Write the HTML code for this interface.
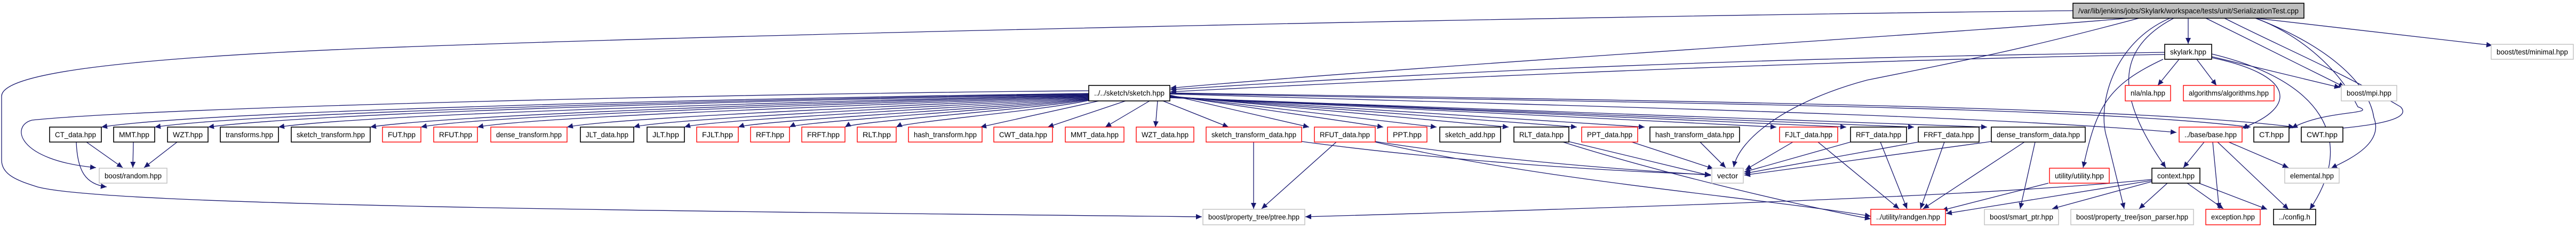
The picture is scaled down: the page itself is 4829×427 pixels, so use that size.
<!DOCTYPE html>
<html><head><meta charset="utf-8"><style>
html,body{margin:0;padding:0;background:#fff;}
svg{display:block;}
text{font-family:"Liberation Sans",sans-serif;font-size:14px;fill:#000;}
.e{fill:none;stroke:#191970;stroke-width:1.3;}
.b{fill:#fff;stroke:#000;stroke-width:1.6;}
.r{fill:#fff;stroke:#ff0000;stroke-width:1.4;}
.g{fill:#fff;stroke:#bfbfbf;stroke-width:1.4;}
</style></head><body>
<svg width="4829" height="427" viewBox="0 0 4829 427" xmlns="http://www.w3.org/2000/svg">
<defs><marker id="a" markerUnits="userSpaceOnUse" markerWidth="12" markerHeight="10" refX="11" refY="5" orient="auto"><path d="M0,0 L11,5 L0,10 z" fill="#191970"/></marker></defs>
<g class="e" marker-end="url(#a)">
<!-- root long loops -->
<path d="M3886,20 C3000,30 1500,60 700,90 C200,110 4,140 3,180 L3,300 C3,330 40,340 70,350 C200,385 1200,395 2253,406"/>
<path d="M2041,170 C1400,175 300,200 60,225 C20,235 30,300 180,314"/>
<path d="M4058,98 C3600,105 3000,115 2194,168"/>
<path d="M4058,102 C3500,112 2800,140 2194,172"/>
<path d="M3990,34 C3700,60 2700,120 2194,165"/>
<path d="M4010,34 C3800,90 3700,110 3500,150 C3350,190 3260,260 3250,313"/>
<!-- sketch to left row -->
<path d="M2041,175 C1500,182 400,205 190,238"/>
<path d="M2041,176 C1500,184 500,208 290,238"/>
<path d="M2041,177 C1500,186 600,210 390,238"/>
<path d="M2041,178 C1600,188 700,212 522,238"/>
<path d="M2041,179 C1600,190 850,214 694,238"/>
<path d="M2041,180 C1650,192 900,216 789,238"/>
<path d="M2041,181 C1700,194 1000,218 895,238"/>
<path d="M2041,182 C1750,196 1150,220 1063,238"/>
<path d="M2041,183 C1800,198 1250,222 1188,238"/>
<path d="M2041,184 C1850,200 1330,224 1283,238"/>
<path d="M2041,185 C1880,202 1420,226 1384,238"/>
<path d="M2041,186 C1900,204 1500,228 1480,238"/>
<path d="M2041,187 C1920,206 1600,228 1584,238"/>
<path d="M2041,188 C1950,208 1700,228 1680,238"/>
<path d="M2060,189 L1838,238"/>
<path d="M2110,189 L1964,238"/>
<path d="M2155,189 L2072,238"/>
<path d="M2170,189 L2166,238"/>
<path d="M2180,189 L2303,238"/>
<!-- sketch to right row -->
<path d="M2193,178 L2454,238"/>
<path d="M2193,179 L2593,238"/>
<path d="M2193,180 L2693,238"/>
<path d="M2193,180 L2828,238"/>
<path d="M2193,181 L2956,238"/>
<path d="M2193,181 L3083,238"/>
<path d="M2193,182 L3330,238"/>
<path d="M2193,182 L3461,238"/>
<path d="M2193,183 L3588,238"/>
<path d="M2193,183 L3725,238"/>
<path d="M2193,176 C3000,200 3700,215 4080,248"/>
<path d="M2193,175 C3200,195 3900,200 4219,238"/>
<path d="M2193,174 C3200,190 4000,200 4301,238"/>
<!-- boost/random -->
<path d="M162,266 L230,314"/>
<path d="M250,266 L249,314"/>
<path d="M332,266 L270,314"/>
<path d="M143,266 C145,320 160,345 200,350"/>
<!-- vector -->
<path d="M2440,265 C2700,300 3000,320 3207,327"/>
<path d="M2578,265 C2800,300 3050,318 3207,328"/>
<path d="M2940,265 L3207,329"/>
<path d="M3056,265 L3212,316"/>
<path d="M3187,266 L3235,314"/>
<path d="M3361,266 L3272,318"/>
<path d="M3469,266 L3270,322"/>
<path d="M3596,266 L3270,325"/>
<path d="M3733,265 L3270,328"/>
<!-- randgen -->
<path d="M2578,266 C2900,340 3300,370 3507,405"/>
<path d="M2930,266 C3100,320 3350,380 3507,410"/>
<path d="M3408,266 L3560,391"/>
<path d="M3525,266 L3575,391"/>
<path d="M3645,266 L3600,391"/>
<path d="M3795,266 L3605,391"/>
<path d="M3840,343 L3640,394"/>
<path d="M4034,338 L3648,400"/>
<!-- ptree -->
<path d="M2350,266 L2350,391"/>
<path d="M2505,266 L2365,391"/>
<path d="M4034,336 C3700,370 3000,390 2447,406"/>
<!-- dense_transform_data -->
<path d="M3815,266 L3787,391"/>
<!-- root -->
<path d="M4102,34 L4102,82"/>
<path d="M4135,34 L4395,163"/>
<path d="M4170,34 C4260,80 4400,140 4500,200 C4530,230 4400,240 4330,245"/>
<path d="M4228,34 C4300,60 4380,120 4420,200 C4460,215 4360,205 4296,240"/>
<path d="M4228,34 C4350,80 4440,150 4450,220 C4470,270 4400,300 4370,315"/>
<path d="M4228,34 L4672,85"/>
<path d="M4075,34 C3950,100 3980,200 4060,314"/>
<path d="M4068,34 C3960,80 3930,200 3950,260 L3982,391"/>
<!-- skylark -->
<path d="M4085,111 L4045,160"/>
<path d="M4118,111 L4155,160"/>
<path d="M4146,108 C4300,140 4310,200 4203,240"/>
<path d="M4146,106 L4387,164"/>
<path d="M4146,101 C4350,150 4420,260 4330,392"/>
<path d="M4055,111 C3950,160 3930,200 3905,314"/>
<!-- base -->
<path d="M4132,266 L4093,314"/>
<path d="M4148,266 L4160,391"/>
<path d="M4157,266 L4290,392"/>
<path d="M4178,266 L4290,314"/>
<!-- context -->
<path d="M4063,343 L4010,391"/>
<path d="M4100,343 L4168,391"/>
<path d="M4122,343 L4250,392"/>
<path d="M4034,340 L3847,391"/>
</g>
<!-- nodes -->
<g>
<rect class="b" x="3886" y="6" width="433" height="28" style="fill:#bfbfbf"/><text x="3896" y="25" textLength="413" lengthAdjust="spacingAndGlyphs">/var/lib/jenkins/jobs/Skylark/workspace/tests/unit/SerializationTest.cpp</text>
<rect class="b" x="4058" y="83" width="88" height="28"/><text x="4068" y="102" textLength="68" lengthAdjust="spacingAndGlyphs">skylark.hpp</text>
<rect class="g" x="4670" y="83" width="154" height="28"/><text x="4680" y="102" textLength="134" lengthAdjust="spacingAndGlyphs">boost/test/minimal.hpp</text>
<rect class="b" x="2041" y="160" width="152" height="29"/><text x="2051" y="179" textLength="132" lengthAdjust="spacingAndGlyphs">../../sketch/sketch.hpp</text>
<rect class="r" x="3984" y="160" width="85" height="29"/><text x="3994" y="179" textLength="65" lengthAdjust="spacingAndGlyphs">nla/nla.hpp</text>
<rect class="r" x="4093" y="160" width="170" height="29"/><text x="4103" y="179" textLength="150" lengthAdjust="spacingAndGlyphs">algorithms/algorithms.hpp</text>
<rect class="g" x="4389" y="160" width="104" height="29"/><text x="4399" y="179" textLength="84" lengthAdjust="spacingAndGlyphs">boost/mpi.hpp</text>
</g>
<g>
<rect class="b" x="93" y="238" width="97" height="28"/><text x="103" y="257" textLength="77" lengthAdjust="spacingAndGlyphs">CT_data.hpp</text>
<rect class="b" x="213" y="238" width="77" height="28"/><text x="223" y="257" textLength="57" lengthAdjust="spacingAndGlyphs">MMT.hpp</text>
<rect class="b" x="314" y="238" width="76" height="28"/><text x="324" y="257" textLength="56" lengthAdjust="spacingAndGlyphs">WZT.hpp</text>
<rect class="b" x="413" y="238" width="109" height="28"/><text x="423" y="257" textLength="89" lengthAdjust="spacingAndGlyphs">transforms.hpp</text>
<rect class="b" x="546" y="238" width="148" height="28"/><text x="556" y="257" textLength="128" lengthAdjust="spacingAndGlyphs">sketch_transform.hpp</text>
<rect class="r" x="717" y="238" width="72" height="28"/><text x="727" y="257" textLength="52" lengthAdjust="spacingAndGlyphs">FUT.hpp</text>
<rect class="r" x="813" y="238" width="82" height="28"/><text x="823" y="257" textLength="62" lengthAdjust="spacingAndGlyphs">RFUT.hpp</text>
<rect class="r" x="920" y="238" width="143" height="28"/><text x="930" y="257" textLength="123" lengthAdjust="spacingAndGlyphs">dense_transform.hpp</text>
<rect class="b" x="1088" y="238" width="100" height="28"/><text x="1098" y="257" textLength="80" lengthAdjust="spacingAndGlyphs">JLT_data.hpp</text>
<rect class="b" x="1213" y="238" width="70" height="28"/><text x="1223" y="257" textLength="50" lengthAdjust="spacingAndGlyphs">JLT.hpp</text>
<rect class="r" x="1306" y="238" width="78" height="28"/><text x="1316" y="257" textLength="58" lengthAdjust="spacingAndGlyphs">FJLT.hpp</text>
<rect class="r" x="1407" y="238" width="73" height="28"/><text x="1417" y="257" textLength="53" lengthAdjust="spacingAndGlyphs">RFT.hpp</text>
<rect class="r" x="1503" y="238" width="81" height="28"/><text x="1513" y="257" textLength="61" lengthAdjust="spacingAndGlyphs">FRFT.hpp</text>
<rect class="r" x="1607" y="238" width="73" height="28"/><text x="1617" y="257" textLength="53" lengthAdjust="spacingAndGlyphs">RLT.hpp</text>
<rect class="r" x="1703" y="238" width="138" height="28"/><text x="1713" y="257" textLength="118" lengthAdjust="spacingAndGlyphs">hash_transform.hpp</text>
<rect class="r" x="1863" y="238" width="110" height="28"/><text x="1873" y="257" textLength="90" lengthAdjust="spacingAndGlyphs">CWT_data.hpp</text>
<rect class="r" x="1997" y="238" width="110" height="28"/><text x="2007" y="257" textLength="90" lengthAdjust="spacingAndGlyphs">MMT_data.hpp</text>
<rect class="r" x="2130" y="238" width="108" height="28"/><text x="2140" y="257" textLength="88" lengthAdjust="spacingAndGlyphs">WZT_data.hpp</text>
<rect class="r" x="2261" y="238" width="179" height="28"/><text x="2271" y="257" textLength="159" lengthAdjust="spacingAndGlyphs">sketch_transform_data.hpp</text>
<rect class="r" x="2464" y="238" width="114" height="28"/><text x="2474" y="257" textLength="94" lengthAdjust="spacingAndGlyphs">RFUT_data.hpp</text>
<rect class="r" x="2601" y="238" width="74" height="28"/><text x="2611" y="257" textLength="54" lengthAdjust="spacingAndGlyphs">PPT.hpp</text>
<rect class="b" x="2699" y="238" width="114" height="28"/><text x="2709" y="257" textLength="94" lengthAdjust="spacingAndGlyphs">sketch_add.hpp</text>
<rect class="b" x="2838" y="238" width="103" height="28"/><text x="2848" y="257" textLength="83" lengthAdjust="spacingAndGlyphs">RLT_data.hpp</text>
<rect class="r" x="2965" y="238" width="105" height="28"/><text x="2975" y="257" textLength="85" lengthAdjust="spacingAndGlyphs">PPT_data.hpp</text>
<rect class="b" x="3093" y="238" width="168" height="28"/><text x="3103" y="257" textLength="148" lengthAdjust="spacingAndGlyphs">hash_transform_data.hpp</text>
<rect class="r" x="3336" y="238" width="109" height="28"/><text x="3346" y="257" textLength="89" lengthAdjust="spacingAndGlyphs">FJLT_data.hpp</text>
<rect class="b" x="3469" y="238" width="105" height="28"/><text x="3479" y="257" textLength="85" lengthAdjust="spacingAndGlyphs">RFT_data.hpp</text>
<rect class="b" x="3596" y="238" width="114" height="28"/><text x="3606" y="257" textLength="94" lengthAdjust="spacingAndGlyphs">FRFT_data.hpp</text>
<rect class="b" x="3733" y="238" width="176" height="28"/><text x="3743" y="257" textLength="156" lengthAdjust="spacingAndGlyphs">dense_transform_data.hpp</text>
<rect class="r" x="4085" y="238" width="118" height="28"/><text x="4095" y="257" textLength="98" lengthAdjust="spacingAndGlyphs">../base/base.hpp</text>
<rect class="b" x="4225" y="238" width="66" height="28"/><text x="4235" y="257" textLength="46" lengthAdjust="spacingAndGlyphs">CT.hpp</text>
<rect class="b" x="4314" y="238" width="78" height="28"/><text x="4324" y="257" textLength="58" lengthAdjust="spacingAndGlyphs">CWT.hpp</text>
</g>
<g>
<rect class="g" x="186" y="315" width="127" height="28"/><text x="196" y="334" textLength="107" lengthAdjust="spacingAndGlyphs">boost/random.hpp</text>
<rect class="g" x="3209" y="315" width="59" height="28"/><text x="3219" y="334" textLength="39" lengthAdjust="spacingAndGlyphs">vector</text>
<rect class="r" x="3842" y="315" width="112" height="28"/><text x="3852" y="334" textLength="92" lengthAdjust="spacingAndGlyphs">utility/utility.hpp</text>
<rect class="b" x="4034" y="315" width="90" height="28"/><text x="4044" y="334" textLength="70" lengthAdjust="spacingAndGlyphs">context.hpp</text>
<rect class="g" x="4283" y="315" width="102" height="28"/><text x="4293" y="334" textLength="82" lengthAdjust="spacingAndGlyphs">elemental.hpp</text>
<rect class="g" x="2255" y="392" width="191" height="29"/><text x="2265" y="411" textLength="171" lengthAdjust="spacingAndGlyphs">boost/property_tree/ptree.hpp</text>
<rect class="r" x="3507" y="392" width="140" height="29"/><text x="3517" y="411" textLength="120" lengthAdjust="spacingAndGlyphs">../utility/randgen.hpp</text>
<rect class="g" x="3720" y="392" width="139" height="29"/><text x="3730" y="411" textLength="119" lengthAdjust="spacingAndGlyphs">boost/smart_ptr.hpp</text>
<rect class="g" x="3882" y="392" width="230" height="29"/><text x="3892" y="411" textLength="210" lengthAdjust="spacingAndGlyphs">boost/property_tree/json_parser.hpp</text>
<rect class="r" x="4135" y="392" width="102" height="29"/><text x="4145" y="411" textLength="82" lengthAdjust="spacingAndGlyphs">exception.hpp</text>
<rect class="b" x="4262" y="392" width="79" height="29"/><text x="4272" y="411" textLength="59" lengthAdjust="spacingAndGlyphs">../config.h</text>
</g>
</svg>
</body></html>
